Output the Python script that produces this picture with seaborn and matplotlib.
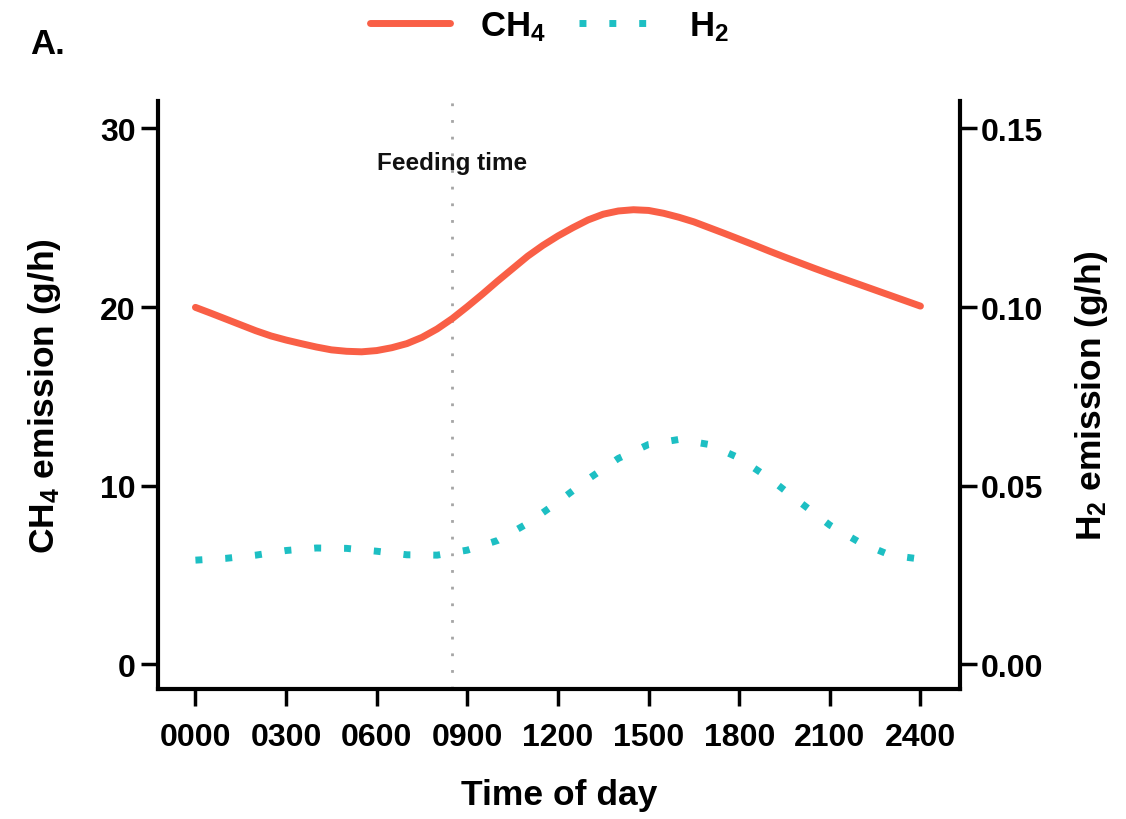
import numpy as np
import pandas as pd
import matplotlib
matplotlib.use("Agg")
import matplotlib.pyplot as plt
from matplotlib.lines import Line2D
import seaborn as sns

# diurnal emission pattern
hours_ch4 = [0, 0.5, 1, 1.5, 2, 2.5, 3, 3.5, 4, 4.5, 5, 5.5, 6, 6.5, 7, 7.5,
             8, 8.5, 9, 9.5, 10, 10.5, 11, 11.5, 12, 12.5, 13, 13.5, 14, 14.5,
             15, 15.5, 16, 16.5, 17, 17.5, 18, 18.5, 19, 19.5, 20, 20.5, 21,
             21.5, 22, 22.5, 23, 23.5, 24]
ch4 = [19.98, 19.66, 19.33, 19.00, 18.67, 18.38, 18.15, 17.95, 17.76, 17.60,
       17.52, 17.49, 17.56, 17.72, 17.95, 18.30, 18.77, 19.35, 20.02, 20.72,
       21.45, 22.15, 22.85, 23.45, 23.98, 24.45, 24.88, 25.20, 25.38, 25.45,
       25.41, 25.25, 25.03, 24.77, 24.45, 24.13, 23.80, 23.47, 23.13, 22.80,
       22.48, 22.16, 21.85, 21.55, 21.25, 20.95, 20.65, 20.35, 20.05]

hours_h2 = [0, 1, 2, 3, 4, 5, 6, 7, 8, 9, 10, 11, 12,
            13, 14, 15, 16, 17, 18, 19, 20, 21, 22, 23, 24]
h2 = [0.0291, 0.0296, 0.0305, 0.0318, 0.0325, 0.0324, 0.0316, 0.0306, 0.0305,
      0.0319, 0.0346, 0.0394, 0.0454, 0.0518, 0.0576, 0.0615, 0.0629, 0.0615,
      0.0577, 0.0520, 0.0454, 0.0389, 0.0340, 0.0305, 0.0294]

xticks = [0, 3, 6, 9, 12, 15, 18, 21, 24]
xticklabels = ['0000', '0300', '0600', '0900', '1200', '1500', '1800', '2100', '2400']
ch4_ticks = [0, 10, 20, 30]
h2_ticks = [0.00, 0.05, 0.10, 0.15]
feeding_hour = 8.5

col_ch4 = '#F95F46'
col_h2 = '#1DBFC3'

df_ch4 = pd.DataFrame({'hour': hours_ch4, 'CH4': ch4})
df_h2 = pd.DataFrame({'hour': hours_h2, 'H2': h2})

sns.set_theme(style='ticks')
plt.rcParams['font.family'] = ['Liberation Sans', 'DejaVu Sans']
plt.rcParams['font.weight'] = 'bold'
plt.rcParams['axes.labelweight'] = 'bold'
plt.rcParams['text.color'] = 'black'
plt.rcParams['axes.labelcolor'] = 'black'
plt.rcParams['mathtext.fontset'] = 'custom'
plt.rcParams['mathtext.rm'] = 'Liberation Sans'
plt.rcParams['mathtext.default'] = 'rm'

fig = plt.figure(figsize=(11.26, 8.2), dpi=100)
ax = fig.add_axes([0.1403, 0.1585, 0.7123, 0.7171])
ax2 = ax.twinx()

ax.axvline(feeding_hour, color='#A5A5A5', lw=2, linestyle=(0, (1, 5)))
ax.text(feeding_hour, 28.1, 'Feeding time', ha='center', va='center',
        fontsize=17.5, fontweight='bold', color='#111111')

sns.lineplot(data=df_ch4, x='hour', y='CH4', ax=ax, color=col_ch4, linewidth=5)
ax.lines[-1].set_solid_joinstyle('round')
sns.lineplot(data=df_h2, x='hour', y='H2', ax=ax2, color=col_h2, linewidth=5,
             linestyle=(0, (1, 3.3)))
ax2.lines[0].set_dash_capstyle('butt')

ax.set_xlim(-1.24, 25.31)
ax.set_ylim(-1.40, 31.54)
ax2.set_ylim(-1.40 * 0.005, 31.54 * 0.005)

ax.set_xticks(xticks)
ax.set_xticklabels(xticklabels)
ax.set_yticks(ch4_ticks)
ax2.set_yticks(h2_ticks)
ax2.set_yticklabels(['%.2f' % v for v in h2_ticks])

for a in (ax, ax2):
    for s in a.spines.values():
        s.set_linewidth(3)
        s.set_color('black')
    a.spines['top'].set_visible(False)
    a.tick_params(length=12, width=2.5, labelsize=23, colors='black')
ax.spines['right'].set_visible(False)
ax2.spines['left'].set_visible(False)
ax2.spines['bottom'].set_visible(False)
ax.tick_params(axis='x', pad=12)
ax.tick_params(axis='y', pad=4)
ax2.tick_params(axis='y', pad=3)
for lab in ax.get_xticklabels() + ax.get_yticklabels() + ax2.get_yticklabels():
    lab.set_fontweight('bold')

ax.set_xlabel('Time of day', fontsize=25.5, fontweight='bold', color='black')
ax.set_ylabel('CH$_4$ emission (g/h)', fontsize=25.5, fontweight='bold', color='black')
ax2.set_ylabel('H$_2$ emission (g/h)', fontsize=25.5, fontweight='bold', color='black')
ax.xaxis.set_label_coords(0.5, -0.151)
ax.yaxis.set_label_coords(-0.118, 0.5)
ax2.yaxis.set_label_coords(1.141, 0.5)

handles = [Line2D([], [], color=col_ch4, lw=5),
           Line2D([], [], color=col_h2, lw=5, linestyle=(0, (1, 3.3)))]
fig.legend(handles, ['CH$_4$', 'H$_2$'], loc='center',
           bbox_to_anchor=(0.488, 0.967), ncol=2, frameon=False,
           fontsize=25, handlelength=2.3, handletextpad=0.86,
           columnspacing=0.95, labelcolor='black')

fig.text(0.027, 0.946, 'A.', fontsize=25, fontweight='bold', va='center',
         color='black')

fig.savefig('out.png', dpi=100, facecolor='white')
